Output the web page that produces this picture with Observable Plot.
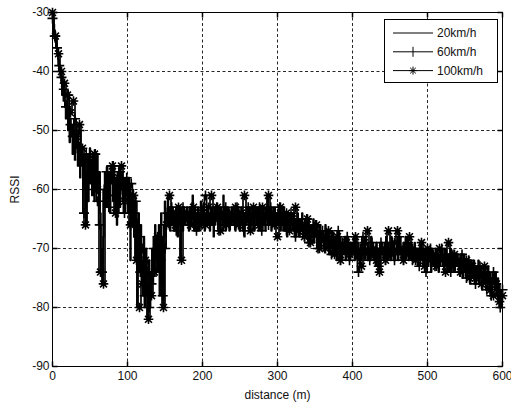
<!DOCTYPE html>
<html>
<head>
<meta charset="utf-8">
<script src="https://cdn.jsdelivr.net/npm/d3@7"></script>
<script src="https://cdn.jsdelivr.net/npm/@observablehq/plot@0.6"></script>
<style>
  html, body { margin: 0; padding: 0; background: #fff; }
  #wrap { position: relative; width: 511px; height: 406px; }
  #legend { position: absolute; left: 384px; top: 19px; }
</style>
</head>
<body>
<div id="wrap"></div>
<script>
// RSSI measured along the road, one series per vehicle speed.
const step20 = 1;   // metres between samples at 20 km/h
const step60 = 3;   // metres between samples at 60 km/h
const step100 = 4;  // metres between samples at 100 km/h

const rssi20 = [
  -30,-31,-32,-33,-35,-34,-36,-37,-38,-40,-39,-41,-42,-44,-43,-45,-44,-46,-48,-45,
  -47,-50,-46,-52,-48,-51,-49,-54,-50,-52,-55,-51,-53,-50,-56,-52,-54,-58,-53,-55,
  -56,-54,-60,-55,-58,-66,-57,-54,-62,-56,-53,-59,-55,-61,-54,-58,-62,-55,-57,-60,
  -54,-58,-62,-57,-64,-70,-74,-76,-68,-60,-57,-63,-58,-56,-62,-57,-60,-64,-56,-59,
  -57,-62,-56,-60,-64,-58,-66,-57,-61,-56,-63,-58,-60,-57,-62,-58,-64,-59,-61,-58,
  -60,-64,-58,-62,-72,-61,-66,-60,-63,-68,-62,-72,-65,-80,-68,-64,-74,-70,-66,-76,
  -72,-78,-68,-80,-74,-70,-78,-82,-76,-72,-80,-74,-78,-70,-76,-68,-74,-66,-72,-70,
  -68,-74,-66,-78,-70,-64,-76,-68,-80,-66,-62,-68,-64,-66,-61,-65,-63,-67,-64,-66,
  -63,-65,-67,-64,-66,-63,-65,-68,-64,-66,-63,-72,-65,-64,-67,-63,-66,-64,-65,-63,
  -66,-64,-67,-63,-65,-66,-64,-61,-65,-67,-63,-66,-64,-65,-63,-67,-64,-66,-62,-65,
  -64,-66,-63,-67,-65,-64,-66,-63,-65,-64,-67,-63,-66,-64,-65,-68,-63,-66,-64,-65,
  -63,-66,-64,-67,-63,-65,-64,-66,-61,-65,-63,-67,-64,-66,-63,-65,-67,-64,-66,-63,
  -65,-64,-66,-63,-67,-64,-65,-66,-63,-64,-67,-65,-63,-66,-64,-65,-68,-64,-66,-63,
  -65,-64,-67,-63,-66,-64,-65,-63,-66,-67,-64,-65,-63,-66,-64,-67,-65,-63,-66,-64,
  -65,-63,-66,-64,-67,-63,-65,-61,-64,-66,-63,-65,-67,-64,-66,-63,-65,-64,-66,-65,
  -64,-66,-63,-65,-67,-64,-66,-65,-63,-67,-64,-66,-65,-68,-64,-66,-65,-67,-64,-66,
  -65,-67,-64,-66,-68,-65,-67,-64,-66,-68,-65,-67,-66,-64,-68,-66,-67,-65,-68,-66,
  -67,-65,-68,-66,-69,-67,-66,-68,-65,-69,-67,-68,-66,-70,-67,-69,-68,-66,-70,-68,
  -67,-69,-68,-70,-66,-69,-68,-70,-67,-71,-69,-68,-70,-67,-69,-71,-68,-70,-69,-72,
  -68,-70,-69,-71,-68,-70,-72,-69,-71,-70,-68,-72,-70,-69,-71,-70,-72,-69,-71,-70,
  -69,-71,-70,-72,-68,-71,-70,-72,-69,-71,-73,-70,-72,-69,-71,-70,-72,-68,-71,-70,
  -72,-69,-71,-70,-72,-68,-71,-69,-72,-70,-71,-73,-69,-71,-70,-72,-74,-70,-71,-69,
  -71,-70,-72,-69,-71,-68,-70,-72,-69,-71,-70,-72,-68,-71,-70,-69,-72,-70,-71,-69,
  -70,-72,-69,-71,-68,-70,-72,-71,-69,-70,-72,-68,-71,-70,-69,-72,-70,-71,-69,-70,
  -72,-70,-71,-69,-72,-70,-71,-73,-70,-72,-71,-69,-72,-70,-71,-73,-70,-72,-71,-70,
  -71,-73,-70,-72,-71,-74,-70,-72,-71,-73,-72,-70,-73,-71,-72,-74,-71,-73,-70,-72,
  -71,-73,-72,-70,-73,-71,-72,-74,-71,-73,-72,-70,-73,-71,-72,-74,-72,-71,-73,-72,
  -71,-73,-72,-74,-71,-73,-72,-75,-73,-71,-74,-72,-73,-75,-72,-74,-73,-76,-72,-74,
  -73,-75,-72,-74,-76,-73,-75,-74,-72,-76,-74,-73,-75,-77,-74,-76,-73,-75,-74,-76,
  -75,-73,-76,-74,-77,-75,-78,-74,-76,-75,-77,-74,-76,-78,-75,-77,-76,-79,-77,-80,
  -78
];

const rssi60 = [
  -31,-34,-36,-39,-41,-43,-46,-44,-49,-51,
  -48,-53,-50,-55,-64,-54,-58,-55,-60,-54,
  -62,-66,-74,-60,-57,-63,-58,-56,-61,-64,
  -57,-60,-64,-58,-61,-59,-64,-62,-68,-74,
  -70,-78,-74,-80,-76,-70,-74,-68,-72,-78,
  -70,-64,-66,-63,-65,-67,-64,-66,-63,-65,
  -64,-66,-63,-65,-67,-64,-66,-63,-61,-65,
  -66,-64,-65,-63,-67,-64,-66,-63,-65,-66,
  -64,-66,-63,-65,-64,-67,-65,-63,-66,-64,
  -66,-64,-63,-67,-65,-64,-66,-63,-65,-64,
  -65,-63,-66,-64,-67,-65,-64,-66,-68,-65,
  -67,-66,-68,-65,-69,-67,-68,-66,-70,-68,
  -67,-70,-68,-69,-71,-68,-70,-67,-72,-69,
  -70,-68,-72,-70,-69,-71,-74,-70,-68,-71,
  -70,-72,-69,-71,-70,-73,-69,-71,-72,-70,
  -71,-69,-72,-70,-68,-71,-72,-70,-69,-71,
  -72,-70,-71,-73,-70,-72,-74,-71,-70,-72,
  -73,-71,-72,-70,-73,-71,-72,-74,-71,-73,
  -72,-74,-71,-73,-75,-72,-74,-73,-76,-74,
  -73,-75,-74,-77,-75,-78,-74,-76,-78,-80,
  -77
];

const rssi100 = [
  -30,-34,-37,-40,-42,-44,-47,-45,-51,-49,
  -53,-66,-55,-58,-54,-60,-74,-76,-62,-58,
  -56,-64,-58,-56,-62,-60,-66,-61,-72,-80,
  -76,-72,-82,-78,-74,-68,-72,-80,-66,-61,
  -64,-66,-63,-72,-65,-64,-66,-63,-65,-66,
  -64,-66,-63,-61,-65,-63,-67,-64,-66,-64,
  -65,-63,-66,-64,-61,-65,-67,-63,-64,-66,
  -63,-65,-61,-64,-66,-68,-63,-65,-64,-67,
  -65,-63,-67,-66,-68,-65,-69,-67,-66,-70,
  -68,-70,-67,-69,-71,-68,-72,-70,-69,-71,
  -70,-68,-71,-73,-69,-67,-71,-70,-72,-74,
  -70,-72,-67,-71,-69,-67,-70,-72,-71,-68,
  -70,-72,-71,-69,-73,-70,-72,-71,-73,-70,
  -72,-74,-69,-73,-71,-72,-74,-73,-72,-75,
  -73,-75,-74,-76,-73,-75,-77,-78,-76,-79,
  -78
];

const seriesNames = ["20km/h", "60km/h", "100km/h"];
const xTicks = [0, 100, 200, 300, 400, 500, 600];
const yTicks = [-90, -80, -70, -60, -50, -40, -30];

const toRows = (values, step) => values.map((v, i) => ({d: i * step, v}));
const data20 = toRows(rssi20, step20);
const data60 = toRows(rssi60, step60);
const data100 = toRows(rssi100, step100);

// Marker shapes: "+" and the eight-armed "*"
const plusMark = {
  draw(ctx, size) {
    const r = Math.sqrt(size / Math.PI);
    ctx.moveTo(-r, 0); ctx.lineTo(r, 0);
    ctx.moveTo(0, -r); ctx.lineTo(0, r);
  }
};
const starMark = {
  draw(ctx, size) {
    const r = Math.sqrt(size / Math.PI);
    const k = r * 0.72;
    ctx.moveTo(-r, 0); ctx.lineTo(r, 0);
    ctx.moveTo(0, -r); ctx.lineTo(0, r);
    ctx.moveTo(-k, -k); ctx.lineTo(k, k);
    ctx.moveTo(-k, k); ctx.lineTo(k, -k);
  }
};
// Short inward tick marks on each side of the box
const tickUp = {draw(ctx) { ctx.moveTo(0, 0); ctx.lineTo(0, -5); }};
const tickDown = {draw(ctx) { ctx.moveTo(0, 0); ctx.lineTo(0, 5); }};
const tickRight = {draw(ctx) { ctx.moveTo(0, 0); ctx.lineTo(5, 0); }};
const tickLeft = {draw(ctx) { ctx.moveTo(0, 0); ctx.lineTo(-5, 0); }};

const fmt = d => String(d);
const grid = {stroke: "#000", strokeOpacity: 0.85, strokeWidth: 1, strokeDasharray: "3,2.5"};
const lineStyle = {x: "d", y: "v", curve: "step", stroke: "#000", strokeWidth: 1.7};

const chart = Plot.plot({
  width: 511,
  height: 406,
  marginLeft: 52,
  marginRight: 9,
  marginTop: 12,
  marginBottom: 40,
  style: {fontFamily: "'Liberation Sans', Arial, sans-serif", fontSize: "12px", color: "#111", background: "#fff"},
  x: {domain: [0, 600]},
  y: {domain: [-90, -30]},
  marks: [
    Plot.gridX(xTicks.slice(1, -1), grid),
    Plot.gridY(yTicks.slice(1, -1), grid),
    Plot.line(data20, lineStyle),
    Plot.line(data60, lineStyle),
    Plot.dot(data60, {x: "d", y: "v", symbol: plusMark, r: 5, fill: "none", stroke: "#000", strokeWidth: 1.6}),
    Plot.line(data100, lineStyle),
    Plot.dot(data100, {x: "d", y: "v", symbol: starMark, r: 4.8, fill: "none", stroke: "#000", strokeWidth: 1.6}),
    Plot.dot(xTicks, {x: d => d, frameAnchor: "bottom", symbol: tickUp, stroke: "#000"}),
    Plot.dot(xTicks, {x: d => d, frameAnchor: "top", symbol: tickDown, stroke: "#000"}),
    Plot.dot(yTicks, {y: d => d, frameAnchor: "left", symbol: tickRight, stroke: "#000"}),
    Plot.dot(yTicks, {y: d => d, frameAnchor: "right", symbol: tickLeft, stroke: "#000"}),
    Plot.frame({stroke: "#000", strokeWidth: 1}),
    Plot.axisX({ticks: xTicks, tickSize: 0, tickPadding: 5, tickFormat: fmt,
      label: "distance (m)", labelAnchor: "center", labelOffset: 32, labelArrow: "none"}),
    Plot.axisY({ticks: yTicks, tickSize: 0, tickPadding: 3, tickFormat: fmt,
      label: "RSSI", labelAnchor: "center", labelOffset: 42, labelArrow: "none"})
  ]
});
document.getElementById("wrap").appendChild(chart);

// Legend box in the upper right of the axes
const legend = d3.select("#wrap").append("svg")
  .attr("id", "legend").attr("width", 114).attr("height", 64)
  .style("font-family", "'Liberation Sans', Arial, sans-serif").style("font-size", "12px");
legend.append("rect").attr("x", 0.5).attr("y", 0.5).attr("width", 113).attr("height", 63)
  .attr("fill", "#fff").attr("stroke", "#000");
seriesNames.forEach((name, i) => {
  const y = 14 + i * 18.8;
  const row = legend.append("g").attr("transform", `translate(0,${y})`);
  row.append("line").attr("x1", 9).attr("x2", 49).attr("y1", 0).attr("y2", 0).attr("stroke", "#000");
  if (i === 1) {
    row.append("path").attr("d", "M29,-5V5").attr("stroke", "#000");
  }
  if (i === 2) {
    row.append("path").attr("d", "M25,0H33M29,-4V4M26.2,-2.8L31.8,2.8M26.2,2.8L31.8,-2.8").attr("stroke", "#000");
  }
  row.append("text").attr("x", 53).attr("y", 0).attr("dy", "0.35em").attr("fill", "#111").text(name);
});
</script>
</body>
</html>
